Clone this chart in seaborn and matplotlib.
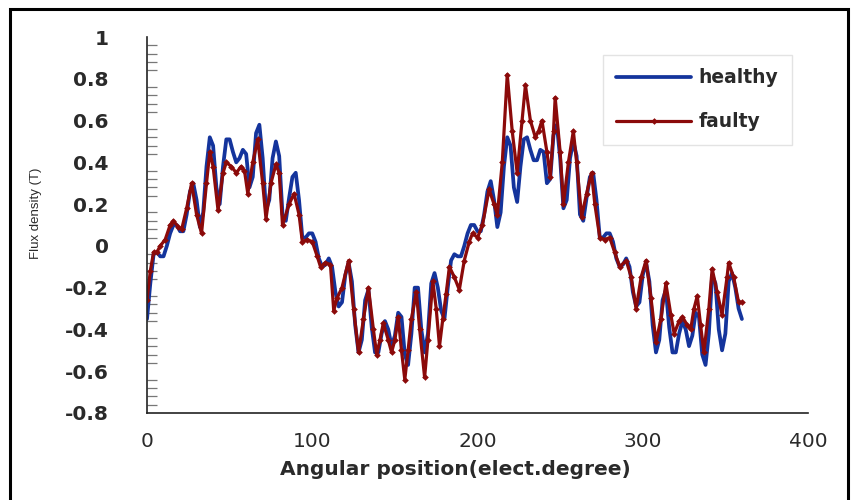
import numpy as np
import pandas as pd
import matplotlib
matplotlib.use("Agg")
import matplotlib.pyplot as plt
from matplotlib.ticker import MultipleLocator
from matplotlib.patches import Rectangle
import seaborn as sns

# healthy machine, sampled every 2 electrical degrees
angle_healthy = np.arange(0, 361, 2)
flux_healthy = [
    -0.35, -0.18, -0.04, -0.03, -0.05, -0.05, 0.00, 0.06, 0.10, 0.10,
    0.07, 0.07, 0.15, 0.26, 0.30, 0.22, 0.09, 0.16, 0.38, 0.52,
    0.48, 0.28, 0.20, 0.38, 0.51, 0.51, 0.45, 0.40, 0.42, 0.46,
    0.44, 0.28, 0.33, 0.54, 0.58, 0.42, 0.17, 0.22, 0.42, 0.50,
    0.43, 0.15, 0.12, 0.23, 0.33, 0.35, 0.22, 0.04, 0.04, 0.06,
    0.06, 0.02, -0.06, -0.10, -0.09, -0.06, -0.10, -0.22, -0.29, -0.27,
    -0.14, -0.08, -0.17, -0.38, -0.51, -0.45, -0.26, -0.21, -0.39, -0.51,
    -0.51, -0.42, -0.36, -0.40, -0.48, -0.43, -0.32, -0.34, -0.52, -0.57,
    -0.42, -0.20, -0.20, -0.40, -0.51, -0.42, -0.18, -0.13, -0.20, -0.31,
    -0.35, -0.20, -0.07, -0.04, -0.05, -0.05, 0.00, 0.06, 0.10, 0.10,
    0.07, 0.07, 0.15, 0.26, 0.31, 0.22, 0.09, 0.16, 0.38, 0.52,
    0.48, 0.28, 0.21, 0.38, 0.51, 0.52, 0.46, 0.41, 0.41, 0.46,
    0.45, 0.30, 0.32, 0.53, 0.58, 0.42, 0.18, 0.22, 0.42, 0.50,
    0.43, 0.15, 0.12, 0.23, 0.33, 0.35, 0.22, 0.04, 0.04, 0.06,
    0.06, 0.02, -0.06, -0.10, -0.09, -0.06, -0.10, -0.22, -0.29, -0.27,
    -0.14, -0.08, -0.17, -0.38, -0.51, -0.45, -0.26, -0.21, -0.39, -0.51,
    -0.51, -0.42, -0.36, -0.40, -0.48, -0.43, -0.32, -0.34, -0.52, -0.57,
    -0.42, -0.14, -0.18, -0.40, -0.50, -0.42, -0.17, -0.13, -0.20, -0.30,
    -0.35,
]

# faulty machine (points with markers)
angle_faulty = [
    0, 2, 4, 6, 8, 11, 14, 16, 19, 21, 24, 27, 30, 33, 36, 38, 40, 43, 46, 48,
    51, 54, 57, 59, 61, 64, 67, 70, 72, 75, 78, 80, 82, 86, 89, 92, 94, 97, 100, 103,
    105, 108, 111, 113, 115, 118, 122, 125, 128, 131, 134, 137, 139, 141, 143, 146, 148, 150, 152, 154,
    156, 158, 160, 163, 165, 168, 170, 173, 175, 177, 179, 181, 183, 186, 189, 192, 195, 197, 200, 203,
    207, 210, 212, 215, 218, 221, 224, 227, 229, 232, 235, 237, 239, 242, 244, 246, 247, 250, 252, 255,
    258, 260, 263, 266, 269, 271, 274, 277, 280, 283, 286, 290, 293, 296, 299, 302, 305, 308, 311, 314,
    317, 319, 322, 324, 327, 329, 331, 333, 335, 337, 340, 342, 345, 348, 351, 352, 355, 358, 360,
]
flux_faulty = [
    -0.26, -0.12, -0.03, -0.03, 0.00, 0.03, 0.10, 0.12, 0.09, 0.08, 0.18, 0.30, 0.15, 0.06, 0.30, 0.45, 0.38, 0.17, 0.35, 0.40,
    0.38, 0.35, 0.38, 0.36, 0.25, 0.40, 0.51, 0.30, 0.13, 0.30, 0.39, 0.35, 0.10, 0.20, 0.25, 0.15, 0.02, 0.03, 0.02, -0.05,
    -0.10, -0.08, -0.09, -0.31, -0.25, -0.20, -0.07, -0.30, -0.51, -0.35, -0.20, -0.40, -0.52, -0.45, -0.37, -0.45, -0.51, -0.45, -0.34, -0.50,
    -0.64, -0.50, -0.35, -0.22, -0.40, -0.63, -0.45, -0.17, -0.30, -0.48, -0.35, -0.23, -0.10, -0.15, -0.21, -0.07, 0.02, 0.06, 0.04, 0.10,
    0.27, 0.20, 0.15, 0.40, 0.82, 0.55, 0.35, 0.60, 0.77, 0.60, 0.52, 0.55, 0.60, 0.45, 0.33, 0.55, 0.71, 0.45, 0.20, 0.40,
    0.55, 0.40, 0.14, 0.25, 0.35, 0.20, 0.04, 0.03, 0.04, -0.03, -0.10, -0.07, -0.15, -0.30, -0.15, -0.07, -0.25, -0.46, -0.35, -0.18,
    -0.33, -0.42, -0.36, -0.34, -0.38, -0.40, -0.30, -0.24, -0.38, -0.51, -0.30, -0.11, -0.22, -0.33, -0.15, -0.08, -0.15, -0.27, -0.27,
]

x_ticks = [0, 100, 200, 300, 400]
y_ticks = [-0.8, -0.6, -0.4, -0.2, 0.0, 0.2, 0.4, 0.6, 0.8, 1.0]
y_tick_labels = ["-0.8", "-0.6", "-0.4", "-0.2", "0", "0.2", "0.4", "0.6", "0.8", "1"]

sns.set_style("white")
plt.rcParams["font.family"] = ["DejaVu Sans"]

fig = plt.figure(figsize=(8.51, 5.0), dpi=100)
ax = fig.add_axes([147 / 851, 87 / 500, 661 / 851, 376 / 500])

sns.lineplot(x=angle_healthy, y=flux_healthy, ax=ax, color="#14349C", lw=2.7,
             label="healthy", sort=False)
sns.lineplot(x=angle_faulty, y=flux_faulty, ax=ax, color="#8B0A0A", lw=2.3,
             marker="D", markersize=3.4, markeredgewidth=0, label="faulty", sort=False)

ax.set_xlim(0, 400)
ax.set_ylim(-0.8, 1.0)
ax.set_xticks(x_ticks)
ax.set_yticks(y_ticks)
ax.set_yticklabels(y_tick_labels)
ax.yaxis.set_minor_locator(MultipleLocator(0.04))

for s in ["top", "right"]:
    ax.spines[s].set_visible(False)
for s in ["left", "bottom"]:
    ax.spines[s].set_color("#222222")
    ax.spines[s].set_linewidth(1.2)

ax.tick_params(axis="y", which="major", direction="inout", length=17, width=1.1,
               color="#333333", pad=19, labelsize=14.5, labelcolor="#2a2a2a")
ax.tick_params(axis="y", which="minor", direction="in", length=7, width=0.9,
               color="#777777", left=True)
ax.tick_params(axis="x", which="major", direction="out", length=6, width=1.1,
               color="#333333", pad=8, labelsize=14.5, labelcolor="#2a2a2a")
for lab in ax.get_yticklabels():
    lab.set_fontweight("bold")

ax.set_xlabel("Angular position(elect.degree)", fontsize=14.5, fontweight="bold",
              color="#2a2a2a")
ax.xaxis.set_label_coords((455 - 147) / 661, -0.125)
ax.set_ylabel("Flux density (T)", fontsize=9.5, family="Liberation Sans", color="#2a2a2a")
ax.yaxis.set_label_coords(-(147 - 42) / 661, (413 - 213) / 376)

leg = ax.legend(loc="upper left", bbox_to_anchor=(0.69, 0.952), borderaxespad=0,
                fontsize=13.5, handlelength=4.0, labelspacing=1.35, frameon=True,
                fancybox=False, borderpad=0.7, handletextpad=0.4)
leg.get_frame().set_edgecolor("#dddddd")
leg.get_frame().set_linewidth(1.0)
for t in leg.get_texts():
    t.set_fontweight("bold")
    t.set_color("#2a2a2a")

# outer frame of the picture
fig.add_artist(Rectangle((10 / 851, -0.02), 838 / 851, 491 / 500 + 0.02,
                         transform=fig.transFigure, fill=False, lw=2.2, color="black"))

fig.savefig("out.png", dpi=100)
